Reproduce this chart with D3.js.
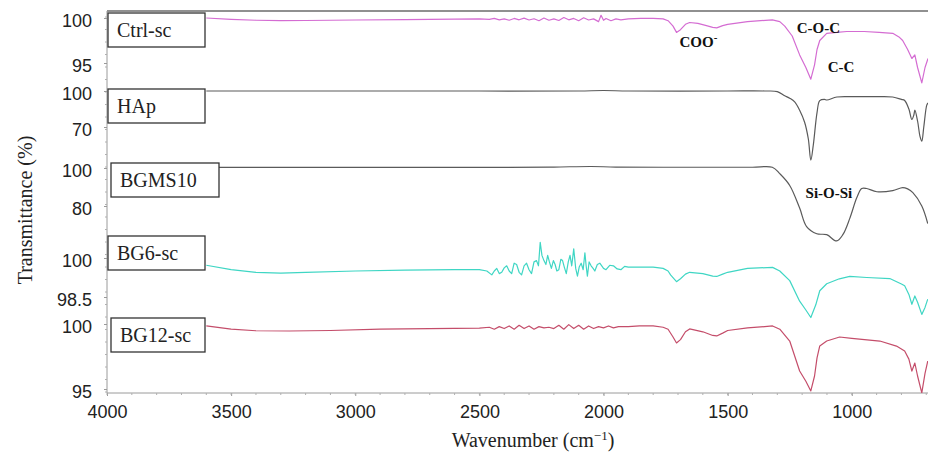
<!DOCTYPE html>
<html>
<head>
<meta charset="utf-8">
<script src="https://cdn.jsdelivr.net/npm/d3@7"></script>
<style>
  html, body { margin: 0; padding: 0; background: #fff; }
  svg { display: block; }
</style>
</head>
<body>
<svg id="chart" width="928" height="458"></svg>
<script>
// ---------------- DATA ----------------
const categories = ["Ctrl-sc", "HAp", "BGMS10", "BG6-sc", "BG12-sc"];
const panelTicks = [[100, 95], [100, 70], [100, 80], [100, 98.5], [100, 95]];
const xTicks = [4000, 3500, 3000, 2500, 2000, 1500, 1000];

// [wavenumber cm-1, transmittance %]
const ctrlSc = [
  [3600,100],[3500,99.85],[3400,99.75],[3300,99.7],[3200,99.72],[3000,99.78],[2800,99.82],[2600,99.88],[2500,99.9],
  [2460,99.85],[2440,99.95],[2420,99.8],[2400,99.9],[2380,99.75],[2360,99.95],[2340,99.8],[2320,99.98],[2300,99.78],
  [2280,99.92],[2260,99.7],[2240,100.0],[2220,99.75],[2200,99.9],[2180,99.72],[2160,100.05],[2140,99.8],[2120,99.95],
  [2100,99.7],[2080,100.02],[2060,99.78],[2040,99.9],[2020,99.6],[2010,100.3],[2000,99.75],[1990,99.95],[1970,99.7],
  [1950,99.9],[1930,99.8],[1900,99.9],[1850,99.95],[1800,99.95],[1760,99.9],[1740,99.7],[1720,99.1],[1706,98.4],
  [1690,98.7],[1670,99.3],[1653,99.5],[1620,99.4],[1593,99.2],[1560,98.95],[1544,98.9],[1520,99.15],[1500,99.3],
  [1420,99.6],[1320,99.8],[1290,99.6],[1270,99.1],[1240,98.0],[1210,95.9],[1185,94.5],[1165,93.2],[1150,94.8],
  [1140,96.5],[1129,97.5],[1101,98.3],[1060,98.4],[1020,98.5],[950,98.5],[890,98.4],[835,98.3],[810,97.9],
  [795,97.5],[775,96.5],[758,95.5],[746,95.9],[735,94.5],[718,92.8],[705,94.5],[693,95.5]
];
const hap = [
  [3600,100],[3400,100],[3000,100],[2500,100],[2100,100],[2000,100.4],[1900,100],[1500,100],[1350,100],[1300,99.5],
  [1270,96],[1250,94],[1230,91],[1210,84],[1190,74],[1175,60],[1165,42.4],[1155,55],[1140,82],[1129,92],[1110,93],
  [1100,92.5],[1060,95],[1000,95.3],[900,95.3],[835,95],[800,93],[787,92.1],[770,85],[758,76.3],[750,80],[746,84],
  [735,75],[725,62],[718,58.2],[710,70],[698,88.2],[693,90]
];
const bgms10 = [
  [3600,100.3],[3200,100.3],[2800,100.3],[2400,100.3],[2200,100.5],[2050,100.8],[1950,100.5],[1600,100.4],[1400,100.4],
  [1320,100.4],[1290,97],[1250,90.8],[1210,78.9],[1182,69.2],[1141,65.4],[1101,64.9],[1061,61.6],[1036,64.9],
  [1008,73.5],[980,84.3],[960,89.2],[940,89.2],[899,87.5],[835,88.1],[795,89.7],[775,89],[754,87],[718,80],[694,70.8]
];
const bg6Sc = [
  [3600,99.72],[3500,99.55],[3400,99.45],[3300,99.42],[3200,99.45],[3000,99.5],[2800,99.53],[2600,99.55],[2500,99.55],
  [2470,99.5],[2450,99.35],[2440,99.5],[2430,99.6],[2420,99.4],[2410,99.45],[2400,99.62],[2390,99.7],[2380,99.5],
  [2370,99.4],[2360,99.8],[2350,99.75],[2340,99.45],[2330,99.35],[2320,99.7],[2310,99.8],[2300,99.55],[2290,99.4],
  [2280,99.85],[2270,99.9],[2262,99.7],[2255,100.6],[2248,100.1],[2240,99.9],[2232,99.75],[2225,100.1],[2218,99.85],
  [2210,99.6],[2202,99.9],[2195,99.75],[2188,99.5],[2180,99.55],[2172,99.95],[2165,99.9],[2158,99.65],[2150,99.4],
  [2142,99.85],[2135,100.1],[2128,99.7],[2120,100.35],[2112,99.6],[2105,99.3],[2098,99.65],[2090,99.8],[2082,99.55],
  [2075,100.2],[2070,99.7],[2065,99.3],[2058,99.85],[2050,99.7],[2042,99.6],[2035,99.5],[2025,99.75],[2015,99.8],
  [2000,99.6],[1990,99.55],[1975,99.72],[1960,99.7],[1945,99.58],[1930,99.55],[1915,99.68],[1900,99.65],[1855,99.65],
  [1800,99.65],[1760,99.6],[1740,99.5],[1730,99.35],[1706,99.09],[1690,99.2],[1670,99.38],[1653,99.45],[1600,99.4],
  [1560,99.3],[1544,99.29],[1520,99.38],[1500,99.45],[1420,99.6],[1319,99.64],[1290,99.5],[1250,99.13],[1210,98.34],
  [1185,98.0],[1165,97.71],[1145,98.2],[1129,98.74],[1101,99.01],[1050,99.2],[1008,99.29],[940,99.25],[847,99.21],
  [800,99.0],[787,98.93],[770,98.6],[758,98.22],[746,98.54],[735,98.3],[718,97.83],[705,98.1],[694,98.42]
];
const bg12Sc = [
  [3600,99.85],[3500,99.6],[3400,99.48],[3266,99.46],[3100,99.5],[2900,99.6],[2700,99.65],[2500,99.69],
  [2460,99.75],[2440,99.6],[2420,99.8],[2400,99.65],[2380,99.85],[2360,99.6],[2340,99.9],[2320,99.65],[2300,99.85],
  [2280,99.6],[2260,99.8],[2240,99.7],[2220,99.75],[2200,99.65],[2180,99.9],[2160,99.6],[2140,99.95],[2120,99.65],
  [2100,99.9],[2080,99.6],[2060,99.85],[2040,99.65],[2020,99.8],[2000,99.7],[1980,99.85],[1960,99.7],[1940,99.8],
  [1900,99.8],[1855,99.85],[1800,99.85],[1760,99.75],[1740,99.6],[1720,99.0],[1706,98.54],[1690,98.8],[1670,99.4],
  [1653,99.62],[1600,99.4],[1560,99.12],[1544,99.08],[1520,99.3],[1500,99.5],[1420,99.7],[1319,99.85],[1290,99.6],
  [1250,98.69],[1210,96.38],[1185,95.6],[1165,94.85],[1150,96.0],[1140,97.4],[1129,98.31],[1101,98.69],[1049,99.0],
  [1000,98.9],[887,98.69],[820,98.3],[787,97.92],[770,97.3],[758,96.38],[746,97.0],[735,96],[718,94.7],[705,96.2],
  [694,97.15]
];
const seriesData = [ctrlSc, hap, bgms10, bg6Sc, bg12Sc];

// annotations: text, superscript, panel index, wavenumber, transmittance
const annotations = [
  ["COO", "-", 0, 1694, 96.8],
  ["C-O-C", "", 0, 1222, 98.3],
  ["C-C", "", 0, 1097, 94.0],
  ["Si-O-Si", "", 2, 1186, 84.2]
];

// ---------------- LAYOUT ----------------
const plotL = 107, plotR = 928, plotT = 11, plotB = 393;
const colors = ["#d46cd2", "#5a5a5a", "#5a5a5a", "#3fd6c4", "#c44d6a"];
const smooth = [false, true, true, false, false];
const panelPix = [[18, 63], [91, 127], [168, 206], [258, 297], [324, 389]];
const boxes = [[108, 13, 97, 34], [108, 89, 97, 34], [111, 163, 108, 34], [108, 236, 97, 34], [111, 318, 94, 34]];

const svg = d3.select("#chart");
const x = d3.scaleLinear().domain([4000, 693]).range([plotL, plotR]);
const yScales = panelTicks.map((t, i) => d3.scaleLinear().domain(t).range(panelPix[i]));

// clip
svg.append("defs").append("clipPath").attr("id", "clip")
  .append("rect").attr("x", plotL).attr("y", plotT).attr("width", plotR - plotL).attr("height", plotB - plotT);

// top border
svg.append("line").attr("x1", plotL).attr("x2", plotR).attr("y1", plotT).attr("y2", plotT)
  .attr("stroke", "#6b6b6b").attr("stroke-width", 1.3);

// x axis
const xAxis = d3.axisBottom(x).tickValues(xTicks).tickSize(3).tickFormat(d3.format("d"));
const gx = svg.append("g").attr("transform", `translate(0,${plotB})`).call(xAxis);
gx.select(".domain").attr("stroke", "#9a9a9a").attr("d", `M${plotL},0H${plotR}`);
gx.selectAll(".tick line").attr("stroke", "#9a9a9a");
gx.selectAll(".tick text").attr("font-family", "Liberation Sans, Arial, sans-serif")
  .attr("font-size", 18).attr("fill", "#222").attr("dy", "1.05em");
// minor x ticks
svg.append("g").selectAll("line").data(d3.range(4000, 693, -100)).join("line")
  .attr("x1", d => x(d)).attr("x2", d => x(d)).attr("y1", plotB).attr("y2", plotB + 2)
  .attr("stroke", "#b0b0b0");

// y axis line
svg.append("line").attr("x1", plotL).attr("x2", plotL).attr("y1", plotT).attr("y2", plotB)
  .attr("stroke", "#9a9a9a").attr("stroke-width", 1);
// minor y ticks
svg.append("g").selectAll("line").data(d3.range(plotT + 6, plotB, 12.5)).join("line")
  .attr("x1", plotL - 2).attr("x2", plotL).attr("y1", d => d).attr("y2", d => d)
  .attr("stroke", "#b0b0b0");

// per-panel y ticks
yScales.forEach((ys, i) => {
  const g = svg.append("g").attr("transform", `translate(${plotL},0)`)
    .call(d3.axisLeft(ys).tickValues(panelTicks[i]).tickSize(3).tickFormat(d => String(d)));
  g.select(".domain").remove();
  g.selectAll(".tick line").attr("stroke", "#9a9a9a");
  g.selectAll(".tick text").attr("font-family", "Liberation Sans, Arial, sans-serif")
    .attr("font-size", 18).attr("fill", "#222").attr("x", -15).attr("dy", "0.45em");
});

// curves
const plot = svg.append("g").attr("clip-path", "url(#clip)");
seriesData.forEach((data, i) => {
  const line = d3.line().x(d => x(d[0])).y(d => yScales[i](d[1]))
    .curve(smooth[i] ? d3.curveCatmullRom.alpha(0.5) : d3.curveLinear);
  plot.append("path").datum(data).attr("d", line)
    .attr("fill", "none").attr("stroke", colors[i]).attr("stroke-width", 1.2)
    .attr("stroke-linejoin", "round");
});

// label boxes
categories.forEach((c, i) => {
  const [bx, by, bw, bh] = boxes[i];
  svg.append("rect").attr("x", bx).attr("y", by).attr("width", bw).attr("height", bh)
    .attr("fill", "#fff").attr("stroke", "#333").attr("stroke-width", 1.3);
  svg.append("text").attr("x", bx + 9).attr("y", by + 24).text(c)
    .attr("font-family", "Liberation Serif, Times New Roman, serif").attr("font-size", 20).attr("fill", "#222");
});

// annotations
annotations.forEach(a => {
  const t = svg.append("text").attr("x", x(a[3])).attr("y", yScales[a[2]](a[4]))
    .attr("font-family", "Liberation Serif, Times New Roman, serif").attr("font-weight", "bold")
    .attr("font-size", 15).attr("fill", "#111").text(a[0]);
  if (a[1]) t.append("tspan").attr("dy", -6).attr("font-size", 11).text(a[1]);
});

// axis titles
svg.append("text").attr("x", 533).attr("y", 447).attr("text-anchor", "middle")
  .attr("font-family", "Liberation Serif, Times New Roman, serif").attr("font-size", 20).attr("fill", "#222")
  .call(t => {
    t.append("tspan").text("Wavenumber (cm");
    t.append("tspan").attr("dy", -7).attr("font-size", 13).text("\u2212" + "1");
    t.append("tspan").attr("dy", 7).text(")");
  });
svg.append("text").attr("transform", "translate(32,210) rotate(-90)").attr("text-anchor", "middle")
  .attr("font-family", "Liberation Serif, Times New Roman, serif").attr("font-size", 20).attr("fill", "#222")
  .text("Transmittance (%)");
</script>
</body>
</html>
